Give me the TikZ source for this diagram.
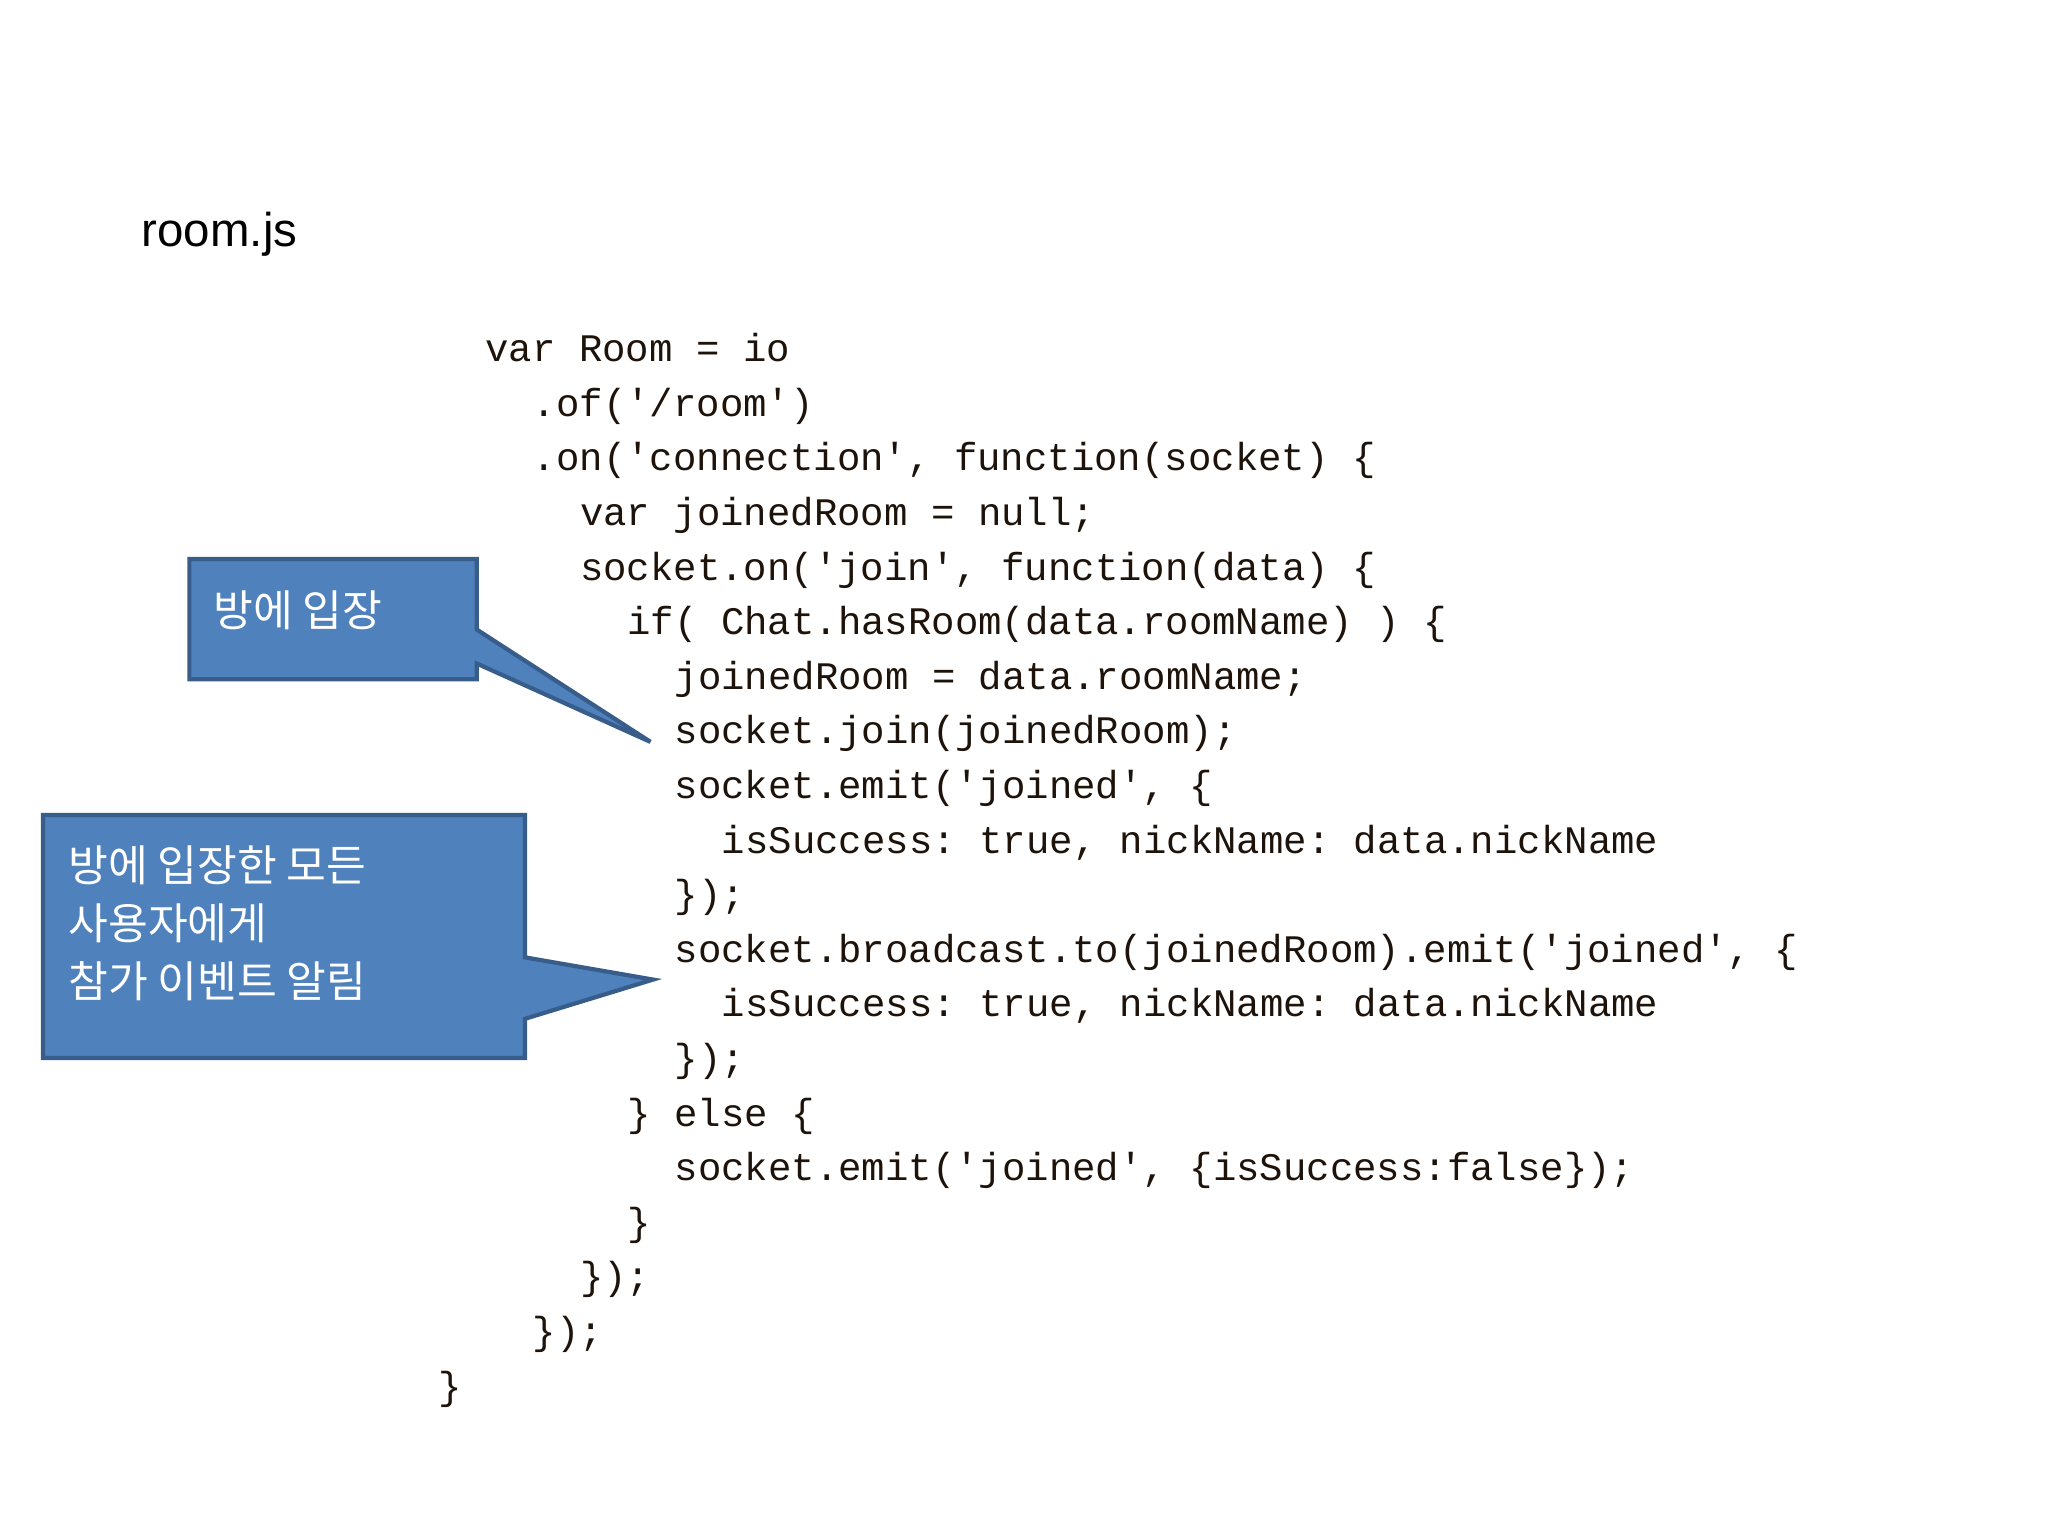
\documentclass[tikz,border=0pt]{standalone}
\usepackage{fontspec}
\setmainfont{Liberation Sans}
\setmonofont{Liberation Mono}
\newfontfamily\kr{Noto Sans CJK KR}
\begin{document}
\begin{tikzpicture}[x=0.01306cm,y=-0.01306cm,
  code/.style={anchor=base west,inner sep=0,font=\ttfamily\fontsize{11.1}{13}\selectfont,text=black!85!brown},
  callout/.style={fill=blue!45!cyan!30!black!0,fill={rgb,255:red,79;green,129;blue,189},draw={rgb,255:red,56;green,93;blue,138},line width=1.2pt},
  ctext/.style={text=white,font=\kr\fontsize{12.3}{16.5}\selectfont,align=left,anchor=north west,inner sep=0}]
\useasboundingbox (0,0) rectangle (1568,1176);
\node[anchor=base west,inner sep=0,font=\fontsize{13.5}{16}\selectfont] (title) at (108,189) {room.js};
\def\cx#1{335+#1*18.1}
\foreach \c/\t [count=\i] in {
 2/{var Room = io},
 4/{.of('/room')},
 4/{.on('connection', function(socket) \{},
 6/{var joinedRoom = null;},
 6/{socket.on('join', function(data) \{},
 8/{if( Chat.hasRoom(data.roomName) ) \{},
 10/{joinedRoom = data.roomName;},
 10/{socket.join(joinedRoom);},
 10/{socket.emit('joined', \{},
 12/{isSuccess: true, nickName: data.nickName},
 10/{\});},
 10/{socket.broadcast.to(joinedRoom).emit('joined', \{},
 12/{isSuccess: true, nickName: data.nickName},
 10/{\});},
 8/{\} else \{},
 10/{socket.emit('joined', \{isSuccess:false\});},
 8/{\}},
 6/{\});},
 4/{\});},
 0/{\}}}
 { \node[code] (l\i) at ({335+\c*18.1},{277+(\i-1)*41.8}) {\t}; }
\draw[callout] (145,428)--(365,428)--(365,482)--(498,568)--(365,508)--(365,520)--(145,520)--cycle;
\node[ctext] (c1) at (163,452) {방에 입장};
\draw[callout] (33,624)--(402,624)--(402,733)--(500,750)--(402,780)--(402,810)--(33,810)--cycle;
\node[ctext] (c2) at (52,647) {방에 입장한 모든\\사용자에게\\참가 이벤트 알림};
\end{tikzpicture}
\end{document}
